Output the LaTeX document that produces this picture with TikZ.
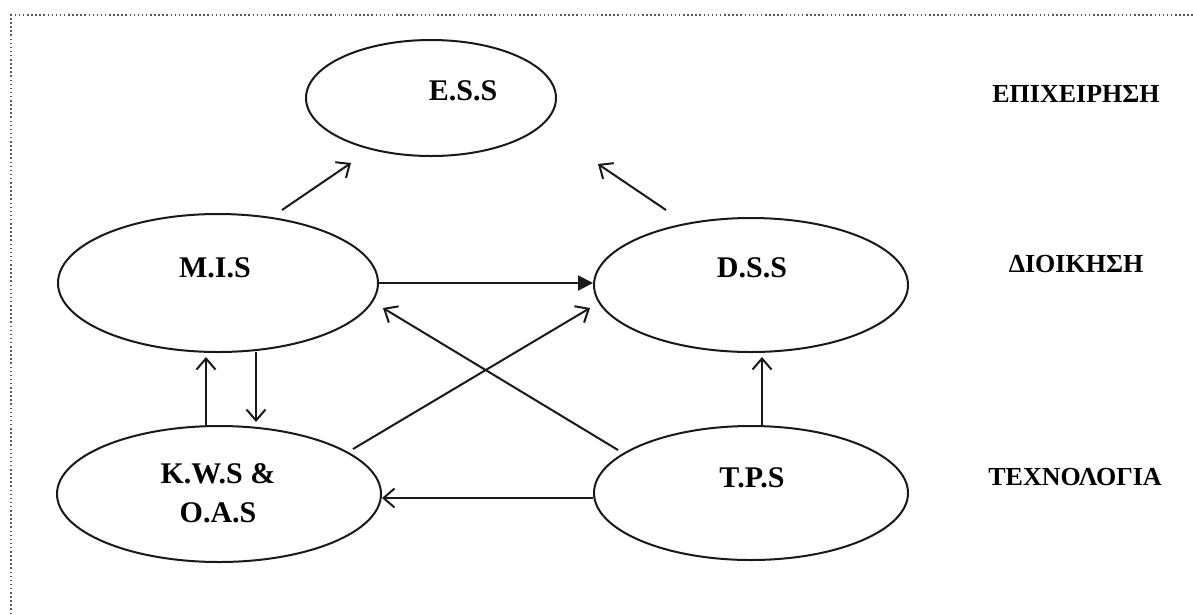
\documentclass[tikz,border=0pt]{standalone}
\usepackage{fontspec}
\setmainfont{Liberation Serif}
\usetikzlibrary{shapes.geometric,arrows.meta,calc}
\tikzset{
  sys/.style={draw=black!90, line width=2pt, ellipse, inner sep=0pt},
  systxt/.style={font=\fontsize{30}{30}\selectfont\bfseries, anchor=base, inner sep=0pt},
  leveltxt/.style={font=\fontsize{26}{26}\selectfont\bfseries, anchor=base, inner sep=0pt},
  link/.style={draw=black!90, line width=2pt, -{Straight Barb[length=11pt,width=19pt,line width=2pt]}},
  mainlink/.style={draw=black!90, line width=2pt, -{Triangle[length=15pt,width=15pt]}},
  frame/.style={draw=black!65, line width=2pt, dash pattern=on 1.5pt off 2.6pt}
}
\begin{document}
\begin{tikzpicture}[x=1pt,y=-1pt]
  \useasboundingbox (0,0) rectangle (1193,614);
  \fill[white] (0,0) rectangle (1193,614);

  % dotted frame (top and left edges)
  \draw[frame] (11,614) -- (11,15) -- (1193,15);

  % the five system types
  \node[sys, minimum width=250pt, minimum height=116pt] (ess) at (431,98) {};
  \node[sys, minimum width=320pt, minimum height=138pt] (mis) at (218,283) {};
  \node[sys, minimum width=314pt, minimum height=134pt] (dss) at (751,285) {};
  \node[sys, minimum width=324pt, minimum height=136pt] (kws) at (219,494) {};
  \node[sys, minimum width=314pt, minimum height=134pt] (tps) at (751,493) {};

  \node[systxt] (esst) at (463,100) {E.S.S};
  \node[systxt] (mist) at (215,277) {M.I.S};
  \node[systxt] (dsst) at (752,277) {D.S.S};
  \node[systxt] (tpst) at (752,487) {T.P.S};
  \node[systxt] (kwst) at (218,483) {K.W.S \&};
  \node[systxt] (oast) at (218,522) {O.A.S};

  % management levels
  \node[leveltxt] (lev1) at (1076,102) {ΕΠΙΧΕΙΡΗΣΗ};
  \node[leveltxt] (lev2) at (1076,272) {ΔΙΟΙΚΗΣΗ};
  \node[leveltxt] (lev3) at (1075,485) {ΤΕΧΝΟΛΟΓΙΑ};

  % information flows
  \draw[link] ($(mis)+(64,-73)$) -- ($(ess)+(-80,65)$);
  \draw[link] ($(dss)+(-85,-75)$) -- ($(ess)+(167,66)$);
  \draw[mainlink] ($(mis)+(161,0)$) -- ($(dss)+(-158,-2)$);
  \draw[link] ($(tps)+(-133,-43)$) -- ($(mis)+(165,25)$);
  \draw[link] ($(kws)+(134,-45)$) -- ($(dss)+(-161,23)$);
  \draw[link] ($(tps)+(11,-67)$) -- ($(dss)+(11,72)$);
  \draw[link] ($(tps)+(-158,5)$) -- ($(kws)+(163,4)$);
  \draw[link] ($(kws)+(-13,-69)$) -- ($(mis)+(-12,74)$);
  \draw[link] ($(mis)+(38,69)$) -- ($(kws)+(37,-72)$);
\end{tikzpicture}
\end{document}
